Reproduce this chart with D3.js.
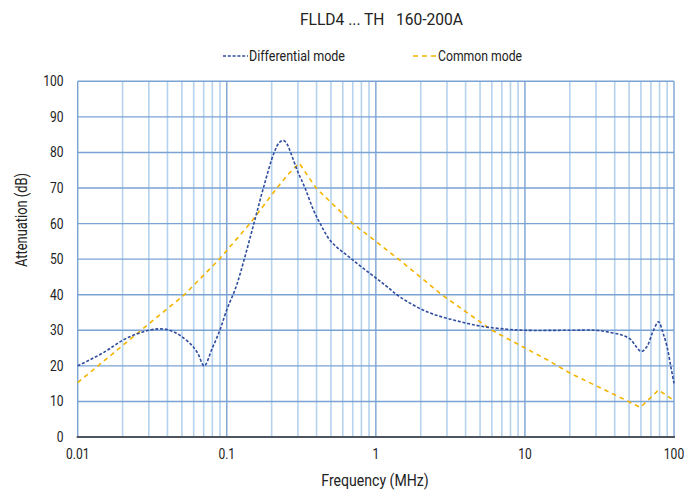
<!DOCTYPE html>
<html><head><meta charset="utf-8">
<script src="https://cdn.jsdelivr.net/npm/d3@7"></script>
<style>
html,body{margin:0;padding:0;background:#fff;}
text{font-family:Roboto,"Noto Sans",sans-serif;fill:#222;}
</style></head>
<body><svg id="c" width="699" height="497"></svg>
<script>
const title = "FLLD4 ... TH   160-200A";
const seriesNames = ["Differential mode", "Common mode"];
const xTicks = [0.01, 0.1, 1, 10, 100];
const xTickLabels = ["0.01", "0.1", "1", "10", "100"];
const yTicks = [0, 10, 20, 30, 40, 50, 60, 70, 80, 90, 100];
const xTitle = "Frequency (MHz)";
const yTitle = "Attenuation (dB)";

const dmFreq = [0.01,0.015,0.02,0.025,0.03,0.035,0.04,0.045,0.05,0.058,0.064,0.0705,0.08,0.09,0.1,0.115,0.131,0.152,0.176,0.208,0.225,0.24,0.255,0.268,0.3,0.335,0.38,0.423,0.5,0.69,1,1.186,1.46,2.2,3.32,5,7.57,10,20,30,37.4,45,50.9,56,60.4,66,72,78.8,84,89.8,95,100];
const dmVal  = [20,23.8,27.2,29.0,30.0,30.4,30.2,29.4,28.2,25.9,23.5,20.0,25.0,30.1,35.8,42,50,60,70,80,82.8,83.4,82.2,80,74.5,70,64,60,55,50,44.7,42.3,39.3,35.2,32.9,31.2,30.3,30.0,30.0,30.0,29.4,28.6,27.5,25.3,24.0,25.5,29.5,32.4,29.5,25.4,20,15.1];

const cmFreq = [0.01,0.0266,0.052,0.0892,0.143,0.217,0.26,0.306,0.397,0.701,1.42,2.77,6.01,14.1,20,30,40,50,59.4,78.8,100];
const cmVal  = [15.3,30,40,50,60,70,74,77,70,60,50,40,30,21.7,18.0,14.4,11.9,9.9,8.3,13.2,10.3];

const svg = d3.select("#c");
const x = d3.scaleLog().domain([0.01, 100]).range([77.7, 674]);
const y = d3.scaleLinear().domain([0, 100]).range([437, 81.3]);

function condense(sel, f) {
  sel.each(function () {
    const l = this.getComputedTextLength();
    this.setAttribute("textLength", l * f);
    this.setAttribute("lengthAdjust", "spacingAndGlyphs");
  });
}

// vertical grid (minor)
const minor = [];
for (let e = -2; e < 2; e++) for (let m = 2; m <= 9; m++) minor.push(m * Math.pow(10, e));
svg.append("g").selectAll("line").data(minor).join("line")
  .attr("x1", d => x(d)).attr("x2", d => x(d))
  .attr("y1", y(100)).attr("y2", y(0))
  .attr("stroke", "#b5d2ee").attr("stroke-width", 1.6);
svg.append("g").selectAll("line").data(xTicks).join("line")
  .attr("x1", d => x(d)).attr("x2", d => x(d))
  .attr("y1", y(100)).attr("y2", y(0))
  .attr("stroke", "#7aa2d3").attr("stroke-width", 1.4);
// horizontal grid
svg.append("g").selectAll("line").data(yTicks.filter(v => v > 0)).join("line")
  .attr("x1", x(0.01)).attr("x2", x(100))
  .attr("y1", d => y(d)).attr("y2", d => y(d))
  .attr("stroke", "#7aa2d3").attr("stroke-width", 1.4);
// bottom axis line
svg.append("line").attr("x1", x(0.01) - 1).attr("x2", x(100) + 1)
  .attr("y1", y(0)).attr("y2", y(0)).attr("stroke", "#4d5561").attr("stroke-width", 2);

// y tick labels
const yl = svg.append("g").selectAll("text").data(yTicks).join("text")
  .attr("x", 63.5).attr("y", d => y(d) + 5)
  .attr("text-anchor", "end").attr("font-size", 14).text(d => d);
condense(yl, 0.86);
// x tick labels
const xl = svg.append("g").selectAll("text").data(xTicks).join("text")
  .attr("x", d => x(d)).attr("y", 459)
  .attr("text-anchor", "middle").attr("font-size", 14).text((d, i) => xTickLabels[i]);
condense(xl, 0.86);

// lines
const line = d3.line().x(d => x(d[0])).y(d => y(d[1]));
svg.append("path").datum(cmFreq.map((f, i) => [f, cmVal[i]]))
  .attr("d", line.curve(d3.curveLinear))
  .attr("fill", "none").attr("stroke", "#f4b400").attr("stroke-width", 1.6)
  .attr("stroke-dasharray", "4.5,4");
svg.append("path").datum(dmFreq.map((f, i) => [f, dmVal[i]]))
  .attr("d", d3.line().x(d => x(d[0])).y(d => y(d[1])).curve(d3.curveCatmullRom.alpha(0.5)))
  .attr("fill", "none").attr("stroke", "#2f4c9e").attr("stroke-width", 1.6)
  .attr("stroke-dasharray", "3,1.8");

// title
const t = svg.append("text").attr("x", 381.5).attr("y", 25).attr("text-anchor", "middle")
  .attr("xml:space", "preserve").style("white-space", "pre")
  .attr("font-size", 17).text(title);
t.attr("textLength", 163).attr("lengthAdjust", "spacingAndGlyphs");

// legend
const lg = svg.append("g");
lg.append("line").attr("x1", 223).attr("x2", 248).attr("y1", 56).attr("y2", 56)
  .attr("stroke", "#2f4c9e").attr("stroke-width", 1.4).attr("stroke-dasharray", "3,1.8");
const l1 = lg.append("text").attr("x", 249).attr("y", 61).attr("font-size", 14).text(seriesNames[0]);
l1.attr("textLength", 96).attr("lengthAdjust", "spacingAndGlyphs");
lg.append("line").attr("x1", 413).attr("x2", 438).attr("y1", 56).attr("y2", 56)
  .attr("stroke", "#f4b400").attr("stroke-width", 1.4).attr("stroke-dasharray", "5,4");
const l2 = lg.append("text").attr("x", 438).attr("y", 61).attr("font-size", 14).text(seriesNames[1]);
l2.attr("textLength", 84).attr("lengthAdjust", "spacingAndGlyphs");

// axis titles
const xt = svg.append("text").attr("x", 375).attr("y", 486).attr("text-anchor", "middle")
  .attr("font-size", 16).text(xTitle);
condense(xt, 0.88);
const yt = svg.append("text").attr("transform", "translate(27,220) rotate(-90)")
  .attr("text-anchor", "middle").attr("font-size", 16).text(yTitle);
yt.attr("textLength", 94).attr("lengthAdjust", "spacingAndGlyphs");
</script></body></html>
